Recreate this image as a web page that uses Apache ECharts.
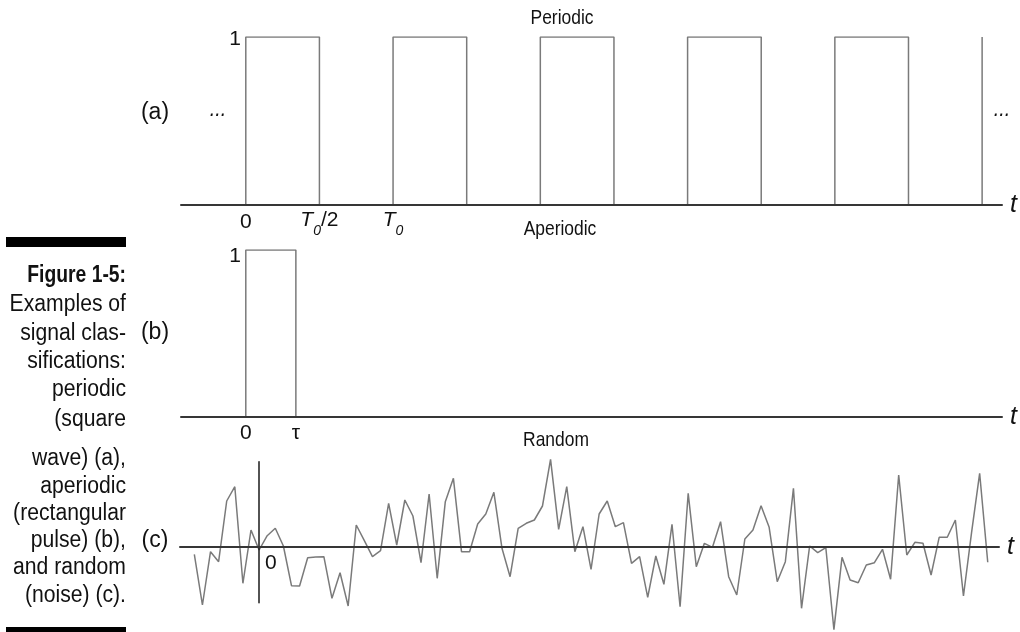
<!DOCTYPE html>
<html><head><meta charset="utf-8">
<script src="https://cdn.jsdelivr.net/npm/echarts@6/dist/echarts.min.js"></script>
<style>html,body{margin:0;padding:0;background:#fff}#c{width:1020px;height:632px}</style>
</head><body><div id="c"></div>
<script>
// ---- data ----
const squareWave = [[0,0],[0,1],[1,1],[1,0],[2,0],[2,1],[3,1],[3,0],[4,0],[4,1],[5,1],[5,0],[6,0],[6,1],[7,1],[7,0],[8,0],[8,1],[9,1],[9,0],[10,0],[10,1]];
const pulse = [[0,0],[0,1],[0.68,1],[0.68,0]];
const noiseStart = -8;
const noiseValues = [-7.6,-58.3,-5,-15,45.7,60,-36.6,16.7,-3.3,11,18.4,0.7,-39,-39.3,-11,-10.3,-10,-51.6,-26,-59.3,
  21.7,6,-10,-4,43.4,1.7,46.7,30.7,-16,52.7,-31.6,45,68.4,-5,-5,22.7,32.7,54.4,-1.6,-30,
  18.4,23.4,26.7,40.7,87.4,17.4,60,-5,20,-22.6,32.7,45.7,20,24,-16.6,-10,-50.6,-9.3,-37.6,22.4,
  -60,53.4,-20,3.4,-0.6,25,-30,-48.3,7.7,16.7,41,19.4,-35,-15,58.4,-61.6,0.7,-6,-1,-83,
  -10.6,-33.3,-36,-18.3,-16,-2.6,-32.6,71.7,-8.3,4.4,3.4,-28.3,9.4,9.4,26.7,-49.3,14,73.4,-15.6];
const periodicTicks = [0,1,2];
const periodicTickLabels = ['0','{i|T}{s|0}{n|/2}','{i|T}{s|0}'];
const aperiodicTicks = [0,0.68];
const aperiodicTickLabels = ['0','\u03c4'];
const randomTicks = [0];
const randomTickLabels = ['0'];
const levelTicks = [1];
const levelTickLabels = ['1'];
const panelTitles = ['Periodic','Aperiodic','Random'];
const panelLetters = ['(a)','(b)','(c)'];
const captionTitle = 'Figure 1-5:';
const captionLines = ['Examples of','signal clas-','sifications:','periodic','(square','wave) (a),','aperiodic','(rectangular','pulse) (b),','and random','(noise) (c).'];

// ---- style ----
const FONT = "'Liberation Sans',Arial,sans-serif";
const AXIS_COLOR = '#363636';
const SIG_COLOR = '#7a7a7a';
const TXT = '#111';

function lab(ticks, labels, extra) {
  return Object.assign({
    customValues: ticks,
    formatter: v => { const k = ticks.findIndex(t => Math.abs(t - v) < 1e-6); return k < 0 ? '' : labels[k]; },
    color: TXT, fontFamily: FONT, fontSize: 21, lineHeight: 24, margin: 5,
    rich: {
      i: {fontStyle:'italic', fontSize:21, fontFamily:FONT, color:TXT, lineHeight:24, verticalAlign:'top'},
      s: {fontStyle:'italic', fontSize:14, fontFamily:FONT, color:TXT, lineHeight:14, padding:[14,0,0,0], verticalAlign:'top'},
      n: {fontSize:21, fontFamily:FONT, color:TXT, lineHeight:24, verticalAlign:'top'}
    }
  }, extra || {});
}
function xAx(gi, min, max, ticks, labels, extraLab) {
  return {
    type:'value', gridIndex: gi, min, max, z: 5,
    axisLine: {show:true, onZero:true, lineStyle:{color:AXIS_COLOR, width:2}},
    axisTick: {show:false}, splitLine: {show:false},
    axisLabel: lab(ticks, labels, extraLab),
    name: 't', nameLocation: 'end', nameGap: 8,
    nameTextStyle: {fontStyle:'italic', fontSize:25, fontFamily:FONT, color:TXT, verticalAlign:'middle'}
  };
}
function yAx(gi, min, max, ticks, labels, showLine, extraLab) {
  return {
    type:'value', gridIndex: gi, min, max, z: 5,
    axisLine: {show: showLine, onZero:true, lineStyle:{color:'#1a1a1a', width:1.5}},
    axisTick: {show:false}, splitLine: {show:false},
    axisLabel: ticks.length ? lab(ticks, labels, extraLab) : {show:false}
  };
}

const graphics = [];
function txt(x, y, s, size, align, sx, extra) {
  graphics.push({type:'text', x, y, scaleX: sx,
    style: Object.assign({text:s, fontSize:size, fontFamily:FONT, fill:TXT, align, verticalAlign:'middle'}, extra || {})});
}
const titlePos = [[562,18],[560,229],[556,440]];
panelTitles.forEach((t,k) => txt(titlePos[k][0], titlePos[k][1], t, 21, 'center', 0.83));
const letterPos = [[155,113],[155,333],[155,541]];
panelLetters.forEach((t,k) => txt(letterPos[k][0], letterPos[k][1], t, 23, 'center', 1));
[[218,110],[1002,110]].forEach(p => txt(p[0], p[1], '...', 22, 'center', 0.9, {fontStyle:'italic'}));
graphics.push({type:'rect', shape:{x:6, y:237, width:120, height:10}, style:{fill:'#000'}});
graphics.push({type:'rect', shape:{x:6, y:627, width:120, height:10}, style:{fill:'#000'}});
txt(126, 276, captionTitle, 23, 'right', 0.84, {fontWeight:'bold'});
const captionY = [305,334,362,390,420,459,487,514,541,568,596];
captionLines.forEach((t,k) => txt(126, captionY[k], t, 23, 'right', 0.92));

const chart = echarts.init(document.getElementById('c'), null, {renderer:'canvas'});
chart.setOption({
  animation: false,
  backgroundColor: '#fff',
  grid: [
    {left:181, width:821, top:37, height:168},
    {left:181, width:821, top:250, height:166.7},
    {left:180, width:819, top:461.7, height:141}
  ],
  xAxis: [
    xAx(0, -0.88, 10.27, periodicTicks, periodicTickLabels),
    xAx(1, -0.88, 10.27, aperiodicTicks, aperiodicTickLabels),
    xAx(2, -9.77, 91.39, randomTicks, randomTickLabels, {align:'left', padding:[0,0,0,6], margin:-51})
  ],
  yAxis: [
    yAx(0, 0, 1, levelTicks, levelTickLabels, false, {margin:-60, padding:[4,0,0,0]}),
    yAx(1, 0, 1, levelTicks, levelTickLabels, false, {margin:-60, padding:[12,0,0,0]}),
    yAx(2, -56, 85, [], [], true)
  ],
  series: [
    {type:'line', xAxisIndex:0, yAxisIndex:0, data:squareWave, showSymbol:false, lineStyle:{color:SIG_COLOR, width:1.5}},
    {type:'line', xAxisIndex:1, yAxisIndex:1, data:pulse, showSymbol:false, lineStyle:{color:SIG_COLOR, width:1.5}},
    {type:'line', xAxisIndex:2, yAxisIndex:2, clip:false, data:noiseValues.map((v,i)=>[noiseStart+i, v]), showSymbol:false, lineStyle:{color:SIG_COLOR, width:1.5}}
  ],
  graphic: graphics
});
</script></body></html>
